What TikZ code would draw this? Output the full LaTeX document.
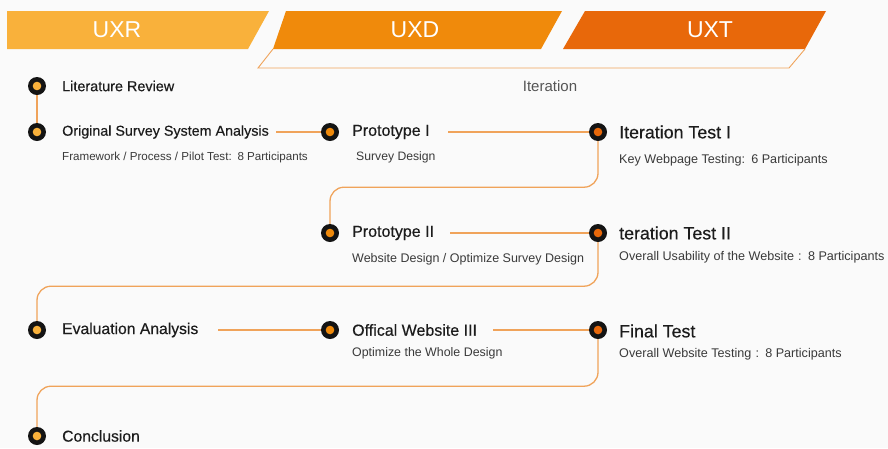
\documentclass[tikz,border=0pt]{standalone}
\usepackage{fontspec}
\setmainfont{Liberation Sans}
\newfontfamily\titlefont[FakeBold=0.4]{Liberation Sans}
\definecolor{uxr}{HTML}{F9B13B}
\definecolor{uxd}{HTML}{F08A0B}
\definecolor{uxt}{HTML}{E8680A}
\definecolor{linkc}{HTML}{F0A35A}
\definecolor{paper}{HTML}{FAFAFA}
\definecolor{ink}{HTML}{1C1C1C}
\definecolor{subink}{HTML}{3A3A3A}
\definecolor{grayink}{HTML}{555555}
\begin{document}
\begin{tikzpicture}[x=1pt,y=-1pt,
  dot/.style={circle, fill=black!92, minimum size=18pt, inner sep=0pt,
    path picture={\fill[#1] (path picture bounding box.center) circle (4.3pt);}},
  title/.style={anchor=west, inner sep=0pt, text=ink,
    font=\titlefont\fontsize{#1}{#1}\selectfont},
  title/.default=15,
  sub/.style={anchor=west, inner sep=0pt, text=subink,
    font=\fontsize{#1}{#1}\selectfont},
  sub/.default=12,
  bannertext/.style={text=white, inner sep=0pt, font=\fontsize{23}{26}\selectfont},
  conn/.style={draw=linkc, line width=1.3pt},
]
% canvas
\fill[paper] (0,0) rectangle (888,448);
\useasboundingbox (0,0) rectangle (888,448);

% phase banners
\fill[uxr] (7,11) -- (269,11) -- (248,49) -- (7,49) -- cycle;
\fill[uxd] (286,11) -- (562,11) -- (541,49) -- (273,49) -- cycle;
\fill[uxt] (585,11) -- (826,11) -- (805,49) -- (563,49) -- cycle;
\draw[linkc, line width=0.9pt] (273,49) -- (258,68) -- (789,68) -- (805,49);
\node[bannertext] (bR) at (117,30) {UXR};
\node[bannertext] (bD) at (415,30) {UXD};
\node[bannertext] (bT) at (710,30) {UXT};
\node[text=grayink, font=\fontsize{15}{18}\selectfont] (iter) at (550,86) {Iteration};

% milestones
\node[dot=uxr] (lr) at (37,86) {};
\node[dot=uxr] (os) at (37,132) {};
\node[dot=uxd] (p1) at (330,132) {};
\node[dot=uxt] (it1) at (598,132) {};
\node[dot=uxd] (p2) at (330,233) {};
\node[dot=uxt] (it2) at (598,233) {};
\node[dot=uxr] (ev) at (37,330) {};
\node[dot=uxd] (ow) at (330,330) {};
\node[dot=uxt] (ft) at (598,330) {};
\node[dot=uxr] (co) at (37,436) {};

% titles
\node[title=14.4] (lrT) at (62,86) {Literature Review};
\node[title=14.3] (osT) at (62,132) {Original Survey System Analysis};
\node[title=16] (p1T) at (352,132) {Prototype I};
\node[title=17.8] (it1T) at (619,132) {Iteration Test I};
\node[title=16] (p2T) at (352,233) {Prototype II};
\node[title=17.8] (it2T) at (619,233) {teration Test II};
\node[title=15.7] (evT) at (62,330) {Evaluation Analysis};
\node[title=16] (owT) at (352,330) {Offical Website III};
\node[title=17.8] (ftT) at (619,331) {Final Test};
\node[title=15.7] (coT) at (62,436) {Conclusion};

% details
\node[sub=11.6] (osS) at (62,157) {Framework / Process / Pilot Test:\enspace 8 Participants};
\node[sub=12.2] (p1S) at (356,157) {Survey Design};
\node[sub=12.6] (it1S) at (619,160) {Key Webpage Testing:\enspace 6 Participants};
\node[sub=12.5] (p2S) at (352,259) {Website Design / Optimize Survey Design};
\node[sub=12.6] (it2S) at (619,257) {Overall Usability of the Website\,\,:\enspace 8 Participants};
\node[sub=12.4] (owS) at (352,353) {Optimize the Whole Design};
\node[sub=12.6] (ftS) at (619,354) {Overall Website Testing\,\,:\enspace 8 Participants};

% connectors
\draw[conn] (lr.south) -- (os.north);
\draw[conn, shorten >=7pt] (p1.west) -- (osT.east |- p1.west);
\draw[conn, shorten >=18pt] (it1.west) -- (p1T.east |- it1.west);
\draw[conn, rounded corners=14pt] (it1.south) -- ++(0,46) -| (p2.north);
\draw[conn, shorten >=16pt] (it2.west) -- (p2T.east |- it2.west);
\draw[conn, rounded corners=14pt] (it2.south) -- ++(0,44) -| (ev.north);
\draw[conn, shorten >=19pt] (ow.west) -- (evT.east |- ow.west);
\draw[conn, shorten >=16pt] (ft.west) -- (owT.east |- ft.west);
\draw[conn, rounded corners=14pt] (ft.south) -- ++(0,47) -| (co.north);
\end{tikzpicture}
\end{document}
